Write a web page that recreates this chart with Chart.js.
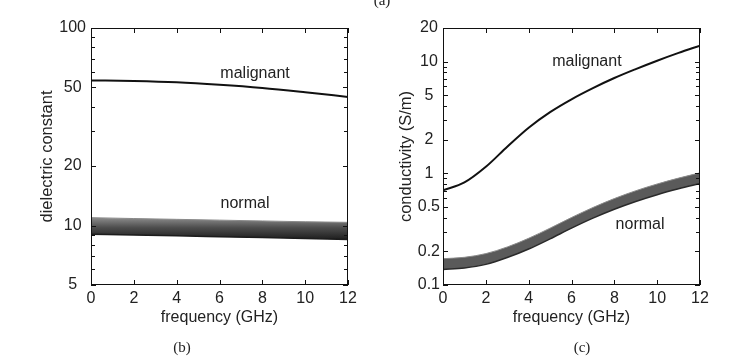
<!DOCTYPE html>
<html>
<head>
<meta charset="utf-8">
<script src="https://cdn.jsdelivr.net/npm/chart.js@4/dist/chart.umd.min.js"></script>
<style>
html, body { margin: 0; padding: 0; background: #fff; }
#wrap { position: relative; width: 745px; height: 363px; overflow: hidden; }
.panel { position: absolute; top: 0; height: 363px; }
#left { left: 0; width: 372px; }
#right { left: 372px; width: 373px; }
.cap { position: absolute; width: 40px; text-align: center; line-height: 18px;
  font-family: "Liberation Serif", "DejaVu Serif", serif; font-size: 15px; color: #222; }
</style>
</head>
<body>
<div id="wrap">
  <div class="panel" id="left"><canvas id="epsChart"></canvas></div>
  <div class="panel" id="right"><canvas id="sigChart"></canvas></div>
  <div class="cap" style="left:362px;top:-9px">(a)</div>
  <div class="cap" style="left:162px;top:338px">(b)</div>
  <div class="cap" style="left:562px;top:338px">(c)</div>
</div>
<script>
// frequency axis
const freqTicks = [0, 2, 4, 6, 8, 10, 12];

// (b) dielectric constant
const epsFreq = [0, 2, 4, 6, 8, 10, 12];
const epsMalignant = [54.3, 53.9, 53.1, 51.6, 49.7, 47.3, 44.8];
const epsNormalHigh = [10.96, 10.85, 10.75, 10.65, 10.55, 10.45, 10.38];
const epsNormalLow = [9.03, 8.95, 8.87, 8.78, 8.69, 8.60, 8.51];
const epsLabels = [5, 10, 20, 50, 100];
const epsMinor = [6, 7, 8, 9, 30, 40, 60, 70, 80, 90];

// (c) conductivity
const sigFreq = [0, 1, 2, 3, 4, 5, 6, 7, 8, 9, 10, 11, 12];
const sigMalignant = [0.705, 0.828, 1.143, 1.73, 2.56, 3.53, 4.60, 5.79, 7.13, 8.57, 10.19, 11.97, 13.9];
const sigNormalHigh = [0.172, 0.177, 0.191, 0.219, 0.262, 0.323, 0.402, 0.494, 0.594, 0.698, 0.802, 0.906, 1.01];
const sigNormalLow = [0.138, 0.142, 0.153, 0.176, 0.210, 0.259, 0.323, 0.397, 0.477, 0.560, 0.644, 0.727, 0.81];
const sigLabels = [0.1, 0.2, 0.5, 1, 2, 5, 10, 20];
const sigMinor = [0.3, 0.4, 0.6, 0.7, 0.8, 0.9, 3, 4, 6, 7, 8, 9];

const FONT = { family: '"Liberation Sans", Arial, sans-serif', size: 16 };
const INK = '#222';

// box frame with inward ticks on all four sides + curve notes
const boxTicks = {
  id: 'boxTicks',
  afterDatasetsDraw(chart, args, opts) {
    const { ctx, chartArea: a, scales: { x, y } } = chart;
    ctx.save();
    ctx.strokeStyle = '#111';
    ctx.lineWidth = 1;
    ctx.strokeRect(a.left + 0.5, a.top + 0.5, a.width - 1, a.height - 1);
    ctx.beginPath();
    x.ticks.forEach(t => {
      const px = Math.round(x.getPixelForValue(t.value)) + 0.5;
      ctx.moveTo(px, a.bottom); ctx.lineTo(px, a.bottom - 5);
      ctx.moveTo(px, a.top); ctx.lineTo(px, a.top + 5);
    });
    y.ticks.forEach(t => {
      const py = Math.round(y.getPixelForValue(t.value)) + 0.5;
      const len = t.major ? 5 : 4;
      ctx.moveTo(a.left, py); ctx.lineTo(a.left + len, py);
      ctx.moveTo(a.right, py); ctx.lineTo(a.right - len, py);
    });
    ctx.stroke();
    ctx.font = '16px ' + FONT.family;
    ctx.fillStyle = INK;
    ctx.textAlign = 'center';
    ctx.textBaseline = 'middle';
    (opts.notes || []).forEach(n => {
      ctx.fillText(n.text, x.getPixelForValue(n.x), y.getPixelForValue(n.y));
    });
    ctx.restore();
  }
};

function logTicks(labels, minor) {
  return s => {
    s.ticks = labels.concat(minor).sort((p, q) => p - q)
      .map(v => ({ value: v, major: labels.includes(v) }));
  };
}

function scales(yMin, yMax, labels, minor, yTitle, yWidth, yPad) {
  return {
    x: {
      type: 'linear', min: 0, max: 12,
      afterBuildTicks: s => { s.ticks = freqTicks.map(v => ({ value: v })); },
      afterFit: s => { s.height = 42; },
      grid: { display: false, drawTicks: false },
      border: { display: false },
      ticks: { font: FONT, color: INK, padding: 4, autoSkip: false, maxRotation: 0 },
      title: { display: true, text: 'frequency (GHz)', font: FONT, color: INK, padding: 0 }
    },
    y: {
      type: 'logarithmic', min: yMin, max: yMax,
      afterBuildTicks: logTicks(labels, minor),
      afterFit: s => { s.width = yWidth; },
      grid: { display: false, drawTicks: false },
      border: { display: false },
      ticks: {
        font: FONT, color: INK, padding: yPad, autoSkip: false, crossAlign: 'center',
        callback: v => labels.includes(v) ? String(v) : ''
      },
      title: { display: true, text: yTitle, font: { family: FONT.family, size: 16.5 }, color: INK, padding: 0 }
    }
  };
}

// (b)
new Chart(document.getElementById('epsChart'), {
  type: 'line',
  data: {
    labels: epsFreq,
    datasets: [
      { data: epsFreq.map((f, i) => ({ x: f, y: epsMalignant[i] })),
        borderColor: '#111', borderWidth: 2, fill: false },
      { data: epsFreq.map((f, i) => ({ x: f, y: epsNormalLow[i] })),
        borderColor: '#1c1c1c', borderWidth: 1.5, fill: false },
      { data: epsFreq.map((f, i) => ({ x: f, y: epsNormalHigh[i] })),
        borderColor: '#8a8a8a', borderWidth: 1, fill: '-1',
        backgroundColor: c => {
          const ch = c.chart;
          if (!ch.chartArea) return '#555';
          const y = ch.scales.y;
          const g = ch.ctx.createLinearGradient(0, y.getPixelForValue(Math.max(...epsNormalHigh)),
            0, y.getPixelForValue(Math.min(...epsNormalLow)));
          g.addColorStop(0, '#8c8c8c');
          g.addColorStop(0.45, '#4e4e4e');
          g.addColorStop(1, '#1e1e1e');
          return g;
        } }
    ]
  },
  options: {
    responsive: true, maintainAspectRatio: false, animation: false,
    layout: { padding: { left: 38, right: 24, top: 28, bottom: 36 } },
    elements: { point: { radius: 0 }, line: { cubicInterpolationMode: 'monotone' } },
    plugins: {
      legend: { display: false }, tooltip: { enabled: false },
      boxTicks: { notes: [{ text: 'malignant', x: 7.66, y: 59 }, { text: 'normal', x: 7.19, y: 12.85 }] }
    },
    scales: scales(5, 100, epsLabels, epsMinor, 'dielectric constant', 53, 5)
  },
  plugins: [boxTicks]
});

// (c)
new Chart(document.getElementById('sigChart'), {
  type: 'line',
  data: {
    labels: sigFreq,
    datasets: [
      { data: sigFreq.map((f, i) => ({ x: f, y: sigMalignant[i] })),
        borderColor: '#111', borderWidth: 2, fill: false },
      { data: sigFreq.map((f, i) => ({ x: f, y: sigNormalLow[i] })),
        borderColor: '#2a2a2a', borderWidth: 1.5, fill: false },
      { data: sigFreq.map((f, i) => ({ x: f, y: sigNormalHigh[i] })),
        borderColor: '#8a8a8a', borderWidth: 1, fill: '-1', backgroundColor: '#5a5a5a' }
    ]
  },
  options: {
    responsive: true, maintainAspectRatio: false, animation: false,
    layout: { padding: { left: 25, right: 45, top: 28, bottom: 36 } },
    elements: { point: { radius: 0 }, line: { cubicInterpolationMode: 'monotone' } },
    plugins: {
      legend: { display: false }, tooltip: { enabled: false },
      boxTicks: { notes: [{ text: 'malignant', x: 6.72, y: 9.93 }, { text: 'normal', x: 9.2, y: 0.344 }] }
    },
    scales: scales(0.1, 20, sigLabels, sigMinor, 'conductivity (S/m)', 46, 3)
  },
  plugins: [boxTicks]
});
</script>
</body>
</html>
